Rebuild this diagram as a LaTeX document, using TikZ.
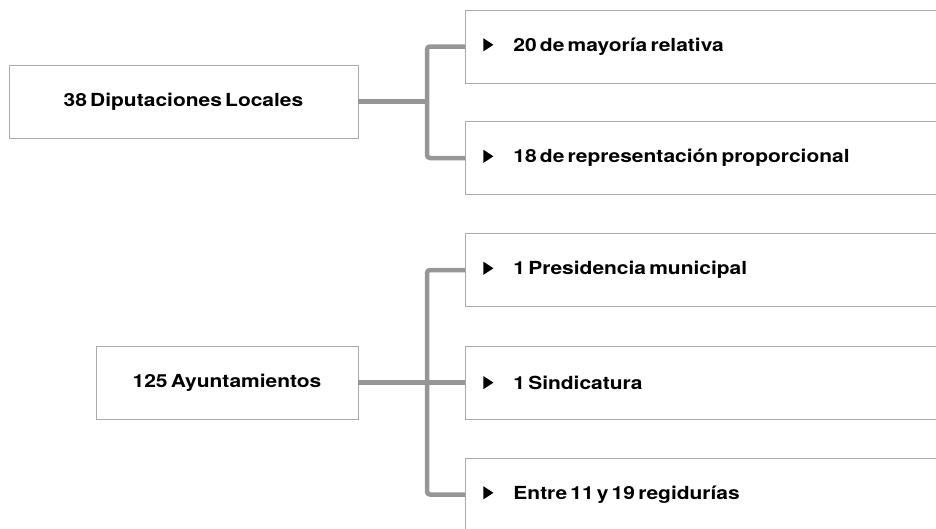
\documentclass[tikz,border=0pt]{standalone}
\usepackage{fontspec}
\setmainfont{TeX Gyre Heros}[FakeStretch=1.165, WordSpace=0.55]
\usetikzlibrary{positioning}

\definecolor{framegray}{RGB}{170,170,170}
\definecolor{linegray}{RGB}{150,150,150}
\newcommand{\pointer}{\tikz[baseline=0pt]\fill (0pt,0pt) -- (0pt,13pt) -- (10pt,6.5pt) -- cycle;}

\begin{document}
\begin{tikzpicture}[x=1pt, y=-1pt,
    mainbox/.style={draw=framegray, line width=0.9pt, minimum width=349pt, minimum height=73pt, font=\bfseries\fontsize{18}{21}\selectfont},
    subbox/.style={draw=framegray, line width=0.9pt, anchor=west, minimum height=73pt, inner xsep=18pt, text width=464pt, align=flush left, font=\bfseries\fontsize{18}{21}\selectfont},
    link/.style={draw=linegray, line width=4.5pt}]
    \useasboundingbox (0,0) rectangle (936,528);
    \clip (0,0) rectangle (936,528);

    % left boxes
    \node[mainbox] (dip) at (183.5,101.5) {38 Diputaciones Locales};
    \node[mainbox, minimum width=262pt] (ayu) at (227,382.5) {125 Ayuntamientos};

    % right boxes
    \foreach \name/\y/\txt in {mr/46.5/20 de mayoría relativa, rp/158/18 de representación proporcional,
                               pres/270/1 Presidencia municipal, sind/382.5/1 Sindicatura, reg/494.5/Entre 11 y 19 regidurías} {
        \node[subbox] (\name) at (465,\y) {\pointer\hspace{20pt}\txt};
    }

    \coordinate (dipfork) at (427,101.5);
    \coordinate (ayufork) at (427,382.5);

    \draw[link] (dip.east) -- (dipfork);
    \draw[link, rounded corners=3pt] (mr.west) -- (dipfork |- mr.west) -- (dipfork |- rp.west) -- (rp.west);

    \draw[link] (ayu.east) -- (sind.west);
    \draw[link, rounded corners=3pt] (pres.west) -- (ayufork |- pres.west) -- (ayufork |- reg.west) -- (reg.west);

\end{tikzpicture}
\end{document}
